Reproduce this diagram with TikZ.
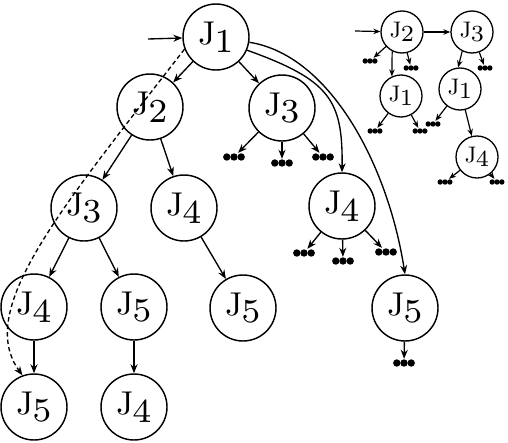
\documentclass[tikz,border=0pt]{standalone}
\usepackage{graphicx}
\usetikzlibrary{arrows.meta}
\newcommand\jb[1]{\scalebox{3.3}{\fontsize{10}{12}\selectfont J}\kern-1pt\raisebox{-7.5pt}{\scalebox{4.8}{\fontsize{7}{8}\selectfont #1}}}
\newcommand\js[1]{\scalebox{2.25}{\fontsize{10}{12}\selectfont J}\kern-0.5pt\raisebox{-4.5pt}{\scalebox{3.3}{\fontsize{7}{8}\selectfont #1}}}
\begin{document}
\begin{tikzpicture}[x=1pt,y=1pt,
  big/.style={circle,draw,line width=1.45pt,minimum size=66pt,inner sep=0pt},
  small/.style={circle,draw,line width=1.3pt,minimum size=42pt,inner sep=0pt},
  bdots/.style={rectangle,minimum width=23pt,minimum height=8pt,inner sep=0pt,
    path picture={\foreach \i in {-7.2,0,7.2}\fill ([xshift=\i pt]path picture bounding box.center) circle (3.7pt);}},
  sdots/.style={rectangle,minimum width=15pt,minimum height=6pt,inner sep=0pt,
    path picture={\foreach \i in {-4.8,0,4.8}\fill ([xshift=\i pt]path picture bounding box.center) circle (2.7pt);}},
  arr/.style={-{Stealth[length=9pt,width=7pt]},line width=1.35pt},
  sarr/.style={-{Stealth[length=7pt,width=5.5pt]},line width=1.2pt},
]
\useasboundingbox (0,0) rectangle (508,-442);
% big tree
\node[big] (a) at (216,-37) {\jb1};
\node[big] (b) at (150,-107) {\jb2};
\node[big] (c) at (282,-108) {\jb3};
\node[big] (d) at (84,-208) {\jb3};
\node[big] (e) at (184,-208) {\jb4};
\node[big] (f) at (342,-206) {\jb4};
\node[big] (g) at (34,-307) {\jb4};
\node[big] (h) at (134,-307) {\jb5};
\node[big] (i) at (243,-308) {\jb5};
\node[big] (j) at (405,-308) {\jb5};
\node[big] (k) at (34,-407) {\jb5};
\node[big] (l) at (134,-407) {\jb4};
\coordinate (in1) at (148,-39);
\node[bdots] (u1) at (234,-157) {};
\node[bdots] (u2) at (282,-163) {};
\node[bdots] (u3) at (323,-157) {};
\node[bdots] (u4) at (304,-253) {};
\node[bdots] (u5) at (343,-261) {};
\node[bdots] (u6) at (386,-252) {};
\node[bdots] (u7) at (404,-363) {};
\draw[arr] (in1) -- (a);
\draw[arr] (a) -- (b);
\draw[arr] (a) -- (c);
\draw[arr] (b) -- (d);
\draw[arr] (b) -- (e);
\draw[arr] (d) -- (g);
\draw[arr] (d) -- (h);
\draw[arr] (e) -- (i);
\draw[arr] (g) -- (k);
\draw[arr] (h) -- (l);
\draw[arr] (c) -- (u1);
\draw[arr] (c) -- (u2);
\draw[arr] (c) -- (u3);
\draw[arr] (f) -- (u4);
\draw[arr] (f) -- (u5);
\draw[arr] (f) -- (u6);
\draw[arr] (j) -- (u7);
\draw[arr] (a.-23) .. controls (330,-80) and (343,-100) .. (f.north);
\draw[arr] (a.-9) .. controls (330,-55) and (388,-165) .. (j.north);
\draw[arr,dash pattern=on 4.5pt off 3pt] (a.201) .. controls (60,-210) and (-25,-310) .. (k.110);
% small tree
\node[small] (s2) at (402,-32) {\js2};
\node[small] (s3) at (472,-32) {\js3};
\node[small] (s1a) at (401,-96) {\js1};
\node[small] (s1b) at (460,-89) {\js1};
\node[small] (s4) at (477,-157) {\js4};
\coordinate (in2) at (355,-31);
\node[sdots] (t1) at (370,-61) {};
\node[sdots] (t2) at (411,-68) {};
\node[sdots] (t3) at (485,-68) {};
\node[sdots] (t4) at (375,-131) {};
\node[sdots] (t5) at (420,-131) {};
\node[sdots] (t6) at (433,-124) {};
\node[sdots] (t7) at (445,-182) {};
\node[sdots] (t8) at (497,-182) {};
\draw[sarr] (in2) -- (s2);
\draw[sarr] (s2) -- (s3);
\draw[sarr] (s2.243) -- (s1a.115);
\draw[sarr] (s3.243) -- (s1b.95);
\draw[sarr] (s1b) -- (s4);
\draw[sarr] (s2) -- (t1);
\draw[sarr] (s2) -- (t2);
\draw[sarr] (s3) -- (t3);
\draw[sarr] (s1a) -- (t4);
\draw[sarr] (s1a) -- (t5);
\draw[sarr] (s1b) -- (t6);
\draw[sarr] (s4) -- (t7);
\draw[sarr] (s4) -- (t8);
\end{tikzpicture}
\end{document}
